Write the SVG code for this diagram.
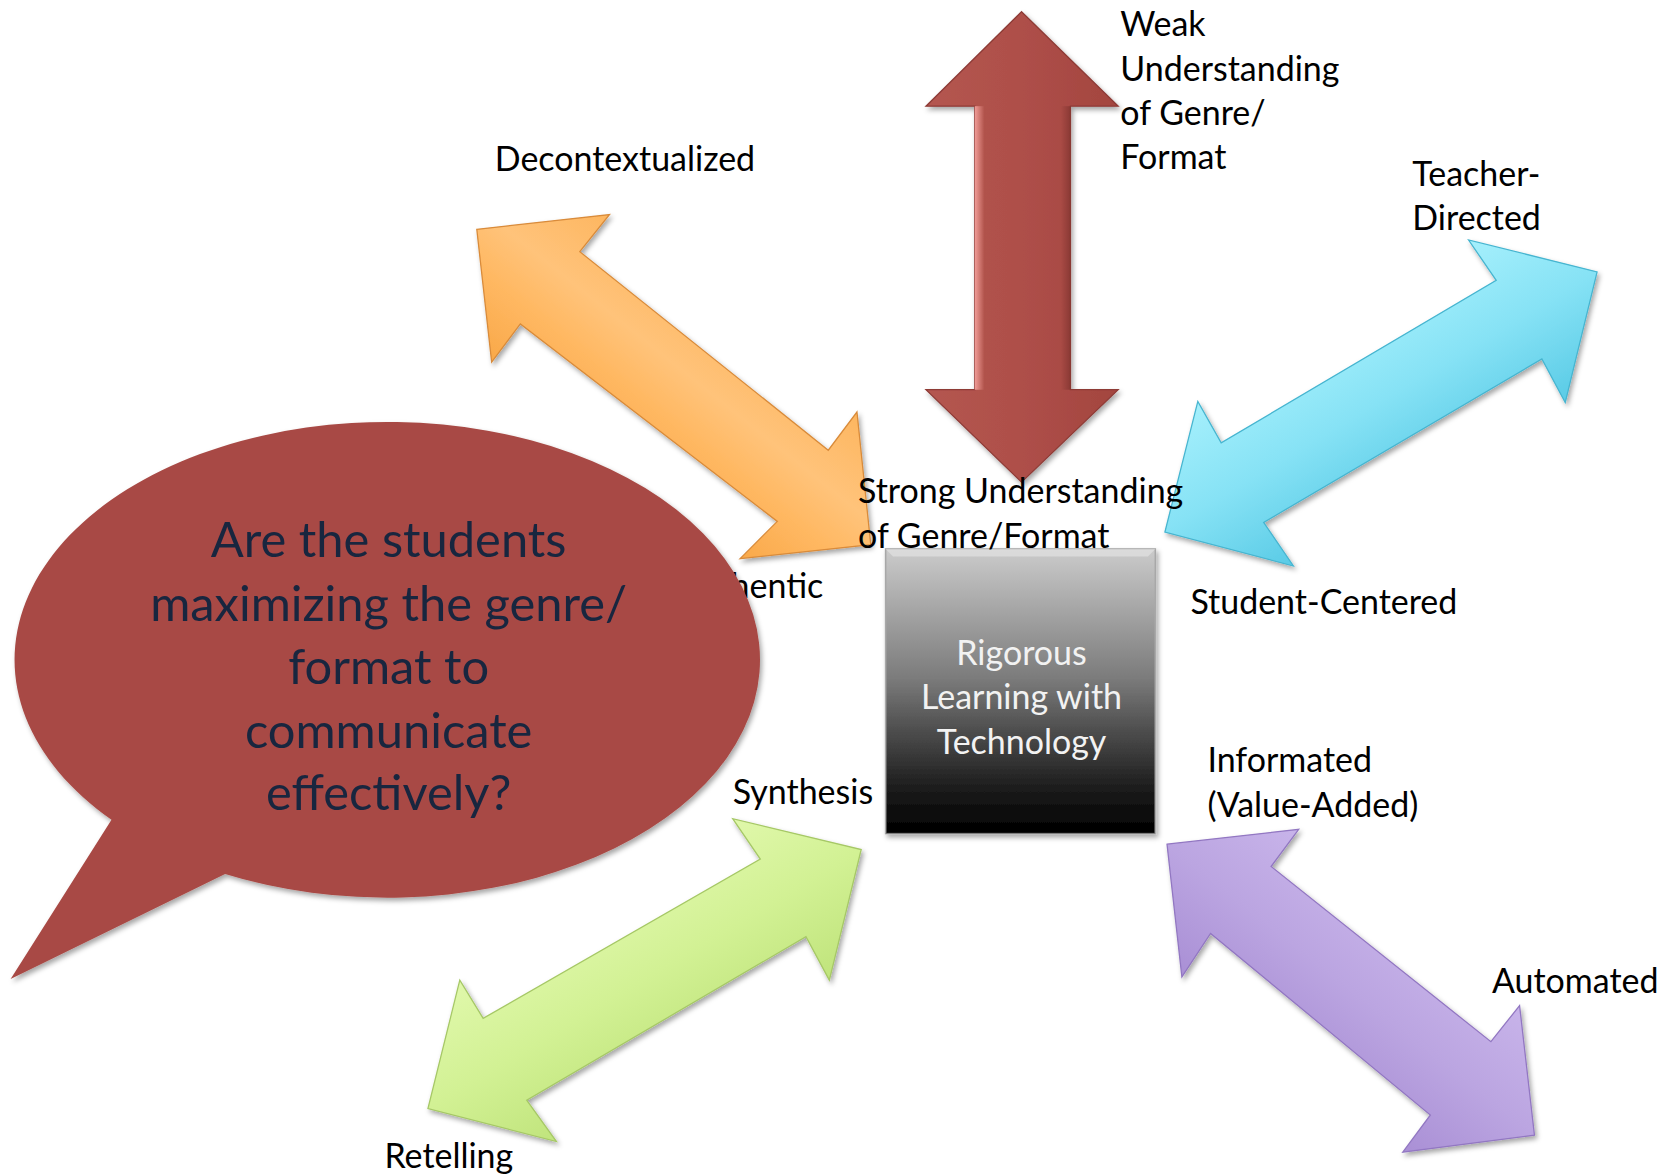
<svg xmlns="http://www.w3.org/2000/svg" width="1665" height="1175" viewBox="0 0 1665 1175">
<defs>
<style>
.lbl{font-family:Lato,"Open Sans","Liberation Sans",sans-serif;font-size:32px;fill:#000}
.box-t{font-family:Lato,"Open Sans","Liberation Sans",sans-serif;font-size:32px;fill:#f2f2f2;text-anchor:middle}
.bub-t{font-family:Lato,"Open Sans","Liberation Sans",sans-serif;font-size:46px;fill:#18263f;text-anchor:middle}
.arrow{stroke-width:1.2;stroke-linejoin:miter;filter:url(#sh)}
</style>
<filter id="sh" x="-10%" y="-10%" width="120%" height="120%">
<feDropShadow dx="2" dy="3" stdDeviation="2.5" flood-color="#000" flood-opacity="0.35"/>
</filter>
<linearGradient id="gRed" gradientUnits="userSpaceOnUse" x1="872" y1="0" x2="1053" y2="0">
<stop offset="0" stop-color="#b45650"/><stop offset="0.5" stop-color="#ae4f49"/><stop offset="1" stop-color="#a3453f"/>
</linearGradient>
<linearGradient id="gRedHi" x1="0" y1="0" x2="1" y2="0">
<stop offset="0" stop-color="#f4a09b" stop-opacity="0.95"/><stop offset="1" stop-color="#f4a09b" stop-opacity="0"/>
</linearGradient>
<linearGradient id="gRedLo" x1="0" y1="0" x2="1" y2="0">
<stop offset="0" stop-color="#7e332e" stop-opacity="0"/><stop offset="1" stop-color="#7e332e" stop-opacity="0.7"/>
</linearGradient>
<linearGradient id="gOr" gradientUnits="userSpaceOnUse" x1="578" y1="435" x2="690" y2="295">
<stop offset="0" stop-color="#f9a848"/><stop offset="0.35" stop-color="#ffb862"/><stop offset="0.6" stop-color="#ffc37a"/><stop offset="1" stop-color="#fdb660"/>
</linearGradient>
<linearGradient id="gCy" gradientUnits="userSpaceOnUse" x1="1254" y1="301" x2="1346" y2="455">
<stop offset="0" stop-color="#a6f0fc"/><stop offset="0.5" stop-color="#86e2f5"/><stop offset="1" stop-color="#5acbe6"/>
</linearGradient>
<linearGradient id="gGr" gradientUnits="userSpaceOnUse" x1="561" y1="845" x2="653" y2="999">
<stop offset="0" stop-color="#e0f8ab"/><stop offset="0.5" stop-color="#d2f194"/><stop offset="1" stop-color="#c0e47c"/>
</linearGradient>
<linearGradient id="gPu" gradientUnits="userSpaceOnUse" x1="1216" y1="1003" x2="1328" y2="861">
<stop offset="0" stop-color="#a98fd5"/><stop offset="0.5" stop-color="#bba5e1"/><stop offset="1" stop-color="#c8b4ea"/>
</linearGradient>
<linearGradient id="gBox" x1="0" y1="0" x2="0" y2="1">
<stop offset="0" stop-color="#cbcbcb"/><stop offset="0.45" stop-color="#7c7c7c"/><stop offset="0.85" stop-color="#1a1a1a"/><stop offset="1" stop-color="#000"/>
</linearGradient>
</defs>
<rect width="1665" height="1175" fill="#fff"/>
<g transform="scale(1.0619)">
<g id="connectors">
<g id="arrow-genre">
<polygon class="arrow" fill="url(#gRed)" stroke="#8e3b36" points="962,11 1053,100 1008,100 1008,367 1053,367 962,454 872,367 918,367 918,100 872,100"/>
<rect x="918" y="100" width="9" height="267" fill="url(#gRedHi)"/>
<rect x="999" y="100" width="9" height="267" fill="url(#gRedLo)"/>
</g>
<polygon id="arrow-context" class="arrow" fill="url(#gOr)" stroke="#d98b3a" points="449,216 574,202 546,237 780,424 807,388 820,513 697,526 732,491 490,305 463,341"/>
<polygon id="arrow-direction" class="arrow" fill="url(#gCy)" stroke="#46b5d0" points="1504,256 1474,379 1452,338 1190,492 1218,533 1097,501 1128,378 1150,417 1409,264 1383,226"/>
<polygon id="arrow-thinking" class="arrow" fill="url(#gGr)" stroke="#a6c866" points="811,800 781,923 759,882 496,1036 524,1075 403,1044 433,923 455,959 716,809 690,771"/>
<polygon id="arrow-information" class="arrow" fill="url(#gPu)" stroke="#9277c2" points="1099,795 1223,781 1197,816 1404,981 1431,947 1445,1069 1321,1085 1347,1050 1140,879 1113,920"/>
</g>
<g id="center-node">
<rect x="834" y="517" width="254" height="268" fill="url(#gBox)" stroke="#a8a8a8" stroke-width="1.5" filter="url(#sh)"/>
<polygon points="834,517 1088,517 1081,524 841,524" fill="#e6e6e6" opacity="0.6"/>
<polygon points="834,785 1088,785 1081,778 841,778" fill="#000" opacity="0.5"/>
<text class="box-t" x="962" y="626">Rigorous</text>
<text class="box-t" x="962" y="668">Learning with</text>
<text class="box-t" x="962" y="710">Technology</text>
</g>
<g id="label-authentic">
<text class="lbl" x="688" y="563">hentic</text>
</g>
<g id="speech-bubble">
<path d="M105,772 L10,922 L212,823 A351,224 0 1 0 105,772 Z" fill="#a84a45" filter="url(#sh)"/>
<text class="bub-t" x="366" y="525">Are the students</text>
<text class="bub-t" x="366" y="585">maximizing the genre/</text>
<text class="bub-t" x="366" y="644">format to</text>
<text class="bub-t" x="366" y="704">communicate</text>
<text class="bub-t" x="366" y="763">effectively?</text>
</g>
<g id="label-weak">
<text class="lbl" x="1055" y="34">Weak</text>
<text class="lbl" x="1055" y="76">Understanding</text>
<text class="lbl" x="1055" y="118">of Genre/</text>
<text class="lbl" x="1055" y="159">Format</text>
</g>
<g id="label-strong">
<text class="lbl" x="808" y="474">Strong Understanding</text>
<text class="lbl" x="808" y="516">of Genre/Format</text>
</g>
<g id="label-decontextualized"><text class="lbl" x="466" y="161">Decontextualized</text></g>
<g id="label-teacher">
<text class="lbl" x="1330" y="175">Teacher-</text>
<text class="lbl" x="1330" y="217">Directed</text>
</g>
<g id="label-student"><text class="lbl" x="1121" y="578">Student-Centered</text></g>
<g id="label-synthesis"><text class="lbl" x="690" y="757">Synthesis</text></g>
<g id="label-informated">
<text class="lbl" x="1137" y="727">Informated</text>
<text class="lbl" x="1137" y="769">(Value-Added)</text>
</g>
<g id="label-automated"><text class="lbl" x="1405" y="935">Automated</text></g>
<g id="label-retelling"><text class="lbl" x="362" y="1100">Retelling</text></g>
</g>
</svg>
